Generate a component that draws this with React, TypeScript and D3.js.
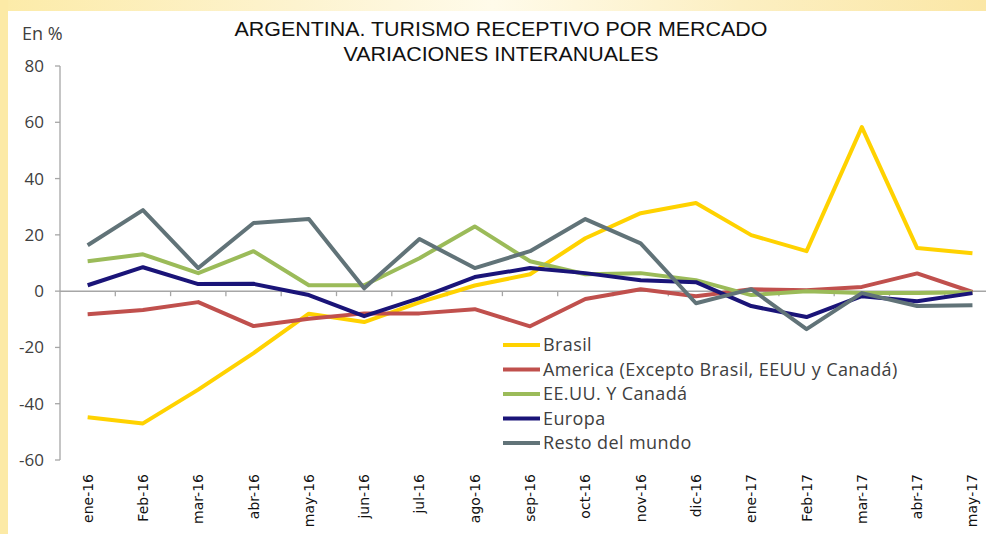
import React from "react";
import * as d3 from "d3";

const categories = ["ene-16","Feb-16","mar-16","abr-16","may-16","jun-16","jul-16","ago-16","sep-16","oct-16","nov-16","dic-16","ene-17","Feb-17","mar-17","abr-17","may-17"];
const brasil = [-44.8,-47,-35,-22,-8,-11,-4,2,6,18.8,27.7,31.3,19.9,14.2,58.3,15.3,13.5];
const america = [-8.2,-6.7,-3.9,-12.4,-9.8,-7.9,-7.9,-6.4,-12.5,-2.8,0.7,-1.8,0.7,0.3,1.5,6.3,-0.3];
const eeuu = [10.6,13.1,6.4,14.2,2.1,2.1,11.7,23,10.6,6,6.4,3.9,-1.4,0,-0.7,-0.7,-0.4];
const europa = [2.1,8.5,2.5,2.6,-1.4,-8.9,-2.5,5,8.2,6.4,3.9,3.2,-5.3,-9.2,-1.8,-3.6,-0.7];
const resto = [16.3,28.8,8.2,24.2,25.6,1,18.5,8.2,14.2,25.6,17,-4.3,0.7,-13.5,-0.7,-5.3,-5];
const yTicks = [80,60,40,20,0,-20,-40,-60];
const seriesNames = ["Brasil","America (Excepto Brasil, EEUU y Canadá)","EE.UU. Y Canadá","Europa","Resto del mundo"];
const seriesColors = ["#FFD200","#C0504D","#9BBB59","#1A1478","#617378"];
const seriesValues = [brasil, america, eeuu, europa, resto];
const titleLines = ["ARGENTINA. TURISMO RECEPTIVO POR MERCADO","VARIACIONES INTERANUALES"];
const titleWidths = [533, 315];

const W = 986, H = 534;
const plotLeft = 60;
const band = 55.3;

export default function App() {
  const x = d3.scaleBand<string>().domain(categories).range([plotLeft, plotLeft + band * categories.length]);
  const y = d3.scaleLinear().domain([-60, 80]).range([460, 66]);
  const cx = (c: string) => (x(c) as number) + x.bandwidth() / 2;
  const line = d3.line<number>().x((_, i) => cx(categories[i])).y(v => y(v));
  const font = "'Liberation Sans', Arial, sans-serif";
  const lblFont = "'DejaVu Sans', sans-serif";
  const txtFont = "'Open Sans', sans-serif";
  return (
    <svg width={W} height={H} style={{ position: "absolute", left: 0, top: 0 }}>
      <defs>
        <linearGradient id="bgGrad" x1="0" y1="0" x2="1" y2="0">
          <stop offset="0" stopColor="#FCEBA8" />
          <stop offset="0.3" stopColor="#FDF3CF" />
          <stop offset="0.5" stopColor="#FFFBEA" />
          <stop offset="0.75" stopColor="#FCEFC2" />
          <stop offset="1" stopColor="#FBE7A6" />
        </linearGradient>
      </defs>
      <rect x={0} y={0} width={W} height={H} fill="url(#bgGrad)" />
      <rect x={0} y={0} width={8} height={H} fill="#FCEAA6" />
      <rect x={8} y={11} width={W - 8} height={H - 11} fill="#FFFFFF" />
      {titleLines.map((t, i) => (
        <text key={t} x={501} y={36 + i * 25} textAnchor="middle" fontFamily={font} fontSize={20}
          textLength={titleWidths[i]} lengthAdjust="spacingAndGlyphs" fill="#111">{t}</text>
      ))}
      <text x={22} y={40} fontFamily={txtFont} fontSize={18} fill="#404040">En %</text>
      {/* y axis */}
      <line x1={plotLeft} x2={plotLeft} y1={y(80)} y2={y(-60)} stroke="#A6A6A6" strokeWidth={1.3} />
      {yTicks.map(t => (
        <g key={t}>
          <line x1={plotLeft - 5} x2={plotLeft} y1={y(t)} y2={y(t)} stroke="#A6A6A6" strokeWidth={1.3} />
          <text x={plotLeft - 16} y={y(t)} dy="0.35em" textAnchor="end" fontFamily={txtFont} fontSize={17} fill="#404040">{t}</text>
        </g>
      ))}
      {/* x axis */}
      <line x1={plotLeft} x2={W} y1={y(0)} y2={y(0)} stroke="#A6A6A6" strokeWidth={1.5} />
      {categories.map(c => (
        <line key={"t" + c} x1={(x(c) as number) + band} x2={(x(c) as number) + band} y1={y(0)} y2={y(0) + 5} stroke="#A6A6A6" strokeWidth={1.3} />
      ))}
      {categories.map(c => (
        <text key={c} transform={`translate(${cx(c) + 5},${474}) rotate(-90)`} textAnchor="end" fontFamily={lblFont} fontSize={14} fill="#111">{c}</text>
      ))}
      {seriesValues.map((vals, i) => (
        <path key={seriesNames[i]} d={line(vals) as string} fill="none" stroke={seriesColors[i]} strokeWidth={4} strokeLinejoin="round" />
      ))}
      {seriesNames.map((n, i) => (
        <g key={"lg" + n}>
          <line x1={503} x2={540} y1={345 + i * 24.5} y2={345 + i * 24.5} stroke={seriesColors[i]} strokeWidth={4} />
          <text x={543} y={345 + i * 24.5} dy="0.35em" fontFamily={txtFont} fontSize={18} letterSpacing={0.4} fill="#404040">{n}</text>
        </g>
      ))}
    </svg>
  );
}
